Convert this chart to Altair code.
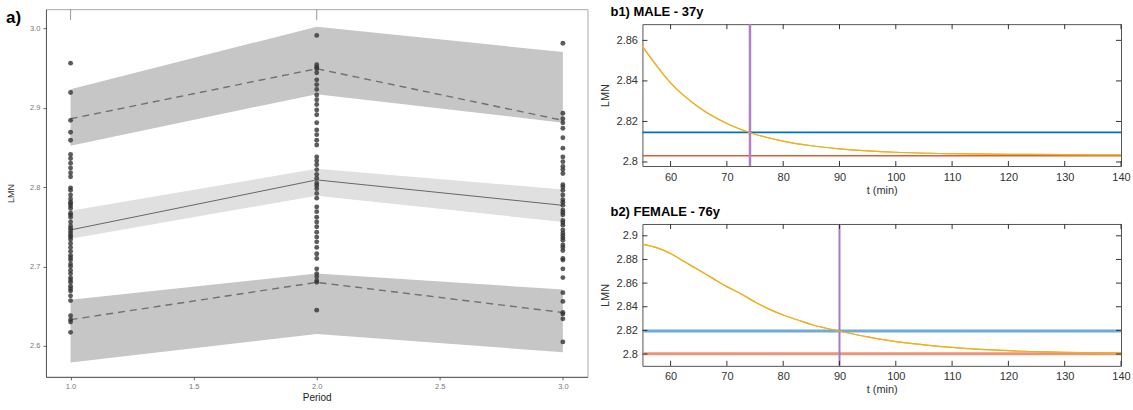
import altair as alt
import pandas as pd

FONT = "Liberation Sans"

# ---------------- panel a) data ----------------
period = [1.0, 2.0, 3.0]
upper_line = [2.886, 2.949, 2.884]
upper_lo = [2.852, 2.917, 2.881]
upper_hi = [2.923, 3.002, 2.970]
mid_line = [2.746, 2.809, 2.777]
mid_lo = [2.735, 2.789, 2.756]
mid_hi = [2.770, 2.823, 2.797]
lower_line = [2.633, 2.680, 2.642]
lower_lo = [2.579, 2.615, 2.592]
lower_hi = [2.658, 2.691, 2.671]

pts_p1 = [2.956, 2.919, 2.884, 2.869, 2.859, 2.841, 2.836, 2.830, 2.824, 2.818,
          2.813, 2.799, 2.796, 2.790, 2.785, 2.781, 2.779, 2.776, 2.773, 2.767,
          2.765, 2.762, 2.756, 2.751, 2.748, 2.745, 2.742, 2.739, 2.737, 2.734,
          2.729, 2.724, 2.719, 2.714, 2.711, 2.708, 2.703, 2.700, 2.695, 2.691,
          2.686, 2.683, 2.680, 2.675, 2.672, 2.669, 2.663, 2.657, 2.638, 2.633,
          2.630, 2.617]
pts_p2 = [2.991, 2.954, 2.951, 2.949, 2.944, 2.935, 2.929, 2.923, 2.916, 2.910,
          2.904, 2.897, 2.891, 2.881, 2.872, 2.866, 2.859, 2.853, 2.838, 2.833,
          2.828, 2.822, 2.816, 2.811, 2.805, 2.802, 2.798, 2.792, 2.786, 2.775,
          2.769, 2.762, 2.756, 2.750, 2.743, 2.737, 2.731, 2.724, 2.716, 2.710,
          2.697, 2.691, 2.687, 2.682, 2.680, 2.645]
pts_p3 = [2.981, 2.893, 2.886, 2.881, 2.874, 2.862, 2.849, 2.838, 2.832, 2.826,
          2.822, 2.817, 2.803, 2.800, 2.796, 2.790, 2.784, 2.781, 2.777, 2.771,
          2.768, 2.765, 2.758, 2.755, 2.752, 2.746, 2.742, 2.739, 2.736, 2.733,
          2.727, 2.724, 2.720, 2.710, 2.708, 2.697, 2.686, 2.667, 2.656, 2.642,
          2.640, 2.634, 2.605]
a_xticks = [1.0, 1.5, 2.0, 2.5, 3.0]
a_yticks = [2.6, 2.7, 2.8, 2.9, 3.0]
a_top_marks = [1.0, 2.0]

# ---------------- panel b) data ----------------
t_b1 = [55, 60, 65, 70, 75, 80, 85, 90, 95, 100, 110, 120, 130, 140]
lmn_b1 = [2.857, 2.839, 2.827, 2.819, 2.8137, 2.8103, 2.808, 2.8065, 2.8055,
          2.8048, 2.8041, 2.8038, 2.8036, 2.8035]
b1_blue = 2.8146
b1_red = 2.8031
b1_cut = 74.1

t_b2 = [55, 57.5, 60, 62.5, 65, 67.5, 70, 72.5, 75, 77.5, 80, 82.5, 85, 87.5,
        90, 95, 100, 105, 110, 115, 120, 125, 130, 135, 140]
lmn_b2 = [2.893, 2.890, 2.885, 2.878, 2.871, 2.864, 2.857, 2.851, 2.844, 2.838,
          2.833, 2.829, 2.825, 2.822, 2.8194, 2.8145, 2.8105, 2.8078, 2.8056,
          2.804, 2.8028, 2.802, 2.8014, 2.801, 2.8008]
b2_blue = 2.8194
b2_red = 2.8003
b2_cut = 90.0

b_xticks = [60, 70, 80, 90, 100, 110, 120, 130, 140]
b1_yticks = [2.8, 2.82, 2.84, 2.86]
b2_yticks = [2.8, 2.82, 2.84, 2.86, 2.88, 2.9]

# ---------------- panel a) chart ----------------
AW, AH = 542, 368
ax_x = alt.Scale(domain=[0.9, 3.1], nice=False, zero=False)
ax_y = alt.Scale(domain=[2.561, 3.024], nice=False, zero=False)

band_df = pd.DataFrame({
    "period": period * 3,
    "lo": upper_lo + mid_lo + lower_lo,
    "hi": upper_hi + mid_hi + lower_hi,
    "band": ["upper"] * 3 + ["mid"] * 3 + ["lower"] * 3,
})
line_df = pd.DataFrame({
    "period": period * 3,
    "val": upper_line + mid_line + lower_line,
    "band": ["upper"] * 3 + ["mid"] * 3 + ["lower"] * 3,
})
pts_df = pd.DataFrame({
    "period": [1.0] * len(pts_p1) + [2.0] * len(pts_p2) + [3.0] * len(pts_p3),
    "val": pts_p1 + pts_p2 + pts_p3,
})

xa = alt.X("period:Q", scale=ax_x, axis=alt.Axis(
    values=a_xticks, format=".1f", title="Period", grid=False, labelFlush=False,
    labelFontSize=7.5, labelColor="#777", labelFont=FONT, tickSize=3, tickColor="#666",
    domainColor="#555", titleFontSize=10, titleFont=FONT, titleFontWeight="normal",
    titleColor="#222", titlePadding=2, labelPadding=3))
ya_axis = alt.Axis(
    values=a_yticks, format=".1f", title="LMN", grid=False, labelFlush=False,
    labelFontSize=7.5, labelColor="#777", labelFont=FONT, tickSize=3, tickColor="#666",
    domainColor="#555", titleFontSize=9, titleFont=FONT, titleFontWeight="normal",
    titleColor="#333", titlePadding=14, labelPadding=3)


def band_layer(name, col, first=False):
    enc = dict(x=xa if first else alt.X("period:Q"),
               y=alt.Y("lo:Q", scale=ax_y, axis=ya_axis, stack=None) if first
               else alt.Y("lo:Q", stack=None),
               y2="hi:Q")
    return alt.Chart(band_df).transform_filter(alt.datum.band == name).mark_area(
        color=col, opacity=1).encode(**enc)


bands_u = band_layer("upper", "#c6c6c6", first=True)
bands_m = band_layer("mid", "#e0e0e0")
bands_l = band_layer("lower", "#c6c6c6")
dashed = alt.Chart(line_df).transform_filter(alt.datum.band != "mid").mark_line(
    color="#707070", strokeDash=[7, 5], strokeWidth=1.4).encode(
    x="period:Q", y="val:Q", detail="band:N")
solid = alt.Chart(line_df).transform_filter(alt.datum.band == "mid").mark_line(
    color="#666", strokeWidth=1).encode(x="period:Q", y="val:Q")
points = alt.Chart(pts_df).mark_circle(size=24, color="#333", opacity=0.8).encode(
    x="period:Q", y="val:Q")
top_marks = alt.Chart(pd.DataFrame({"period": a_top_marks})).mark_rule(
    color="#999", strokeWidth=1).encode(x="period:Q", y=alt.value(0), y2=alt.value(11))
a_label = alt.Chart(pd.DataFrame({"t": ["a)"]})).mark_text(
    fontSize=17, fontWeight="bold", font=FONT, align="left", baseline="top", color="#000"
).encode(text="t:N", x=alt.value(-40), y=alt.value(1))

panel_a = alt.layer(bands_u, bands_m, bands_l, dashed, solid, points, top_marks,
                    a_label).properties(
    width=AW, height=AH, view=alt.ViewBackground(stroke="#aaa", strokeWidth=1))

# ---------------- panel b) charts ----------------
BW, BH = 479, 142


def make_title(text, h):
    return alt.Chart(pd.DataFrame({"t": [text]})).mark_text(
        fontSize=13, fontWeight="bold", font=FONT, align="left", baseline="bottom",
        color="#000").encode(text="t:N", x=alt.value(-32), y=alt.value(h)).properties(
        width=BW, height=h, view=alt.ViewBackground(stroke="transparent"))


def make_b(t, vals, blue, red, cut, ydom, yticks, blue_col, red_col,
           purple_col, lw_h, lw_p):
    xs = alt.Scale(domain=[55, 140], nice=False, zero=False)
    ys = alt.Scale(domain=ydom, nice=False, zero=False)
    curve_df = pd.DataFrame({"t": t, "v": vals})
    xaxis = alt.Axis(values=b_xticks, title="t (min)", grid=False, domain=False,
                     tickSize=0, labelFontSize=11, labelFont=FONT, labelColor="#333",
                     labelPadding=5, titleFontSize=11, titleFont=FONT, labelOverlap=False,
                     labelFlush=False, titleFontWeight="normal", titleColor="#333",
                     titlePadding=2)
    yaxis = alt.Axis(values=yticks, format="~g", title="LMN", grid=False, domain=False,
                     tickSize=0, labelFontSize=11, labelFont=FONT, labelColor="#333",
                     labelPadding=5, titleFontSize=11, titleFont=FONT, labelOverlap=False,
                     labelFlush=False, labelBound=False, titleFontWeight="normal",
                     titleColor="#333", titlePadding=6)
    X = alt.X("t:Q", scale=xs, axis=xaxis)
    Y = alt.Y("v:Q", scale=ys, axis=yaxis)
    base_curve = alt.Chart(curve_df).mark_line(
        color="#EDB120", strokeWidth=1.2, interpolate="monotone").encode(x=X, y=Y)
    hblue = alt.Chart(pd.DataFrame({"v": [blue]})).mark_rule(
        color=blue_col, strokeWidth=lw_h).encode(y=Y)
    hred = alt.Chart(pd.DataFrame({"v": [red]})).mark_rule(
        color=red_col, strokeWidth=lw_h).encode(y=Y)
    vline = alt.Chart(pd.DataFrame({"t": [cut]})).mark_rule(
        color=purple_col, strokeWidth=lw_p).encode(x=X)
    xt = pd.DataFrame({"t": b_xticks})
    yt = pd.DataFrame({"v": yticks})
    tick_bot = alt.Chart(xt).mark_rule(color="#333").encode(
        x=X, y=alt.value(BH), y2=alt.value(BH - 5))
    tick_top = alt.Chart(xt).mark_rule(color="#333").encode(
        x=X, y=alt.value(0), y2=alt.value(5))
    tick_l = alt.Chart(yt).mark_rule(color="#333").encode(
        y=Y, x=alt.value(0), x2=alt.value(5))
    tick_r = alt.Chart(yt).mark_rule(color="#333").encode(
        y=Y, x=alt.value(BW), x2=alt.value(BW - 5))
    return alt.layer(base_curve, hred, hblue, vline, base_curve, tick_bot, tick_top,
                     tick_l, tick_r).properties(
        width=BW, height=BH,
        view=alt.ViewBackground(stroke="#555", strokeWidth=1))


b1 = make_b(t_b1, lmn_b1, b1_blue, b1_red, b1_cut,
            [2.798, 2.868], b1_yticks, "#0072BD", "#D95F36", "#B27FC6", 1.6, 2.5)
b2 = make_b(t_b2, lmn_b2, b2_blue, b2_red, b2_cut,
            [2.790, 2.910], b2_yticks, "#6FAAD8", "#E8957A", "#A67BC0", 3, 2)

right = alt.vconcat(make_title("b1) MALE - 37y", 10), b1,
                    make_title("b2) FEMALE - 76y", 20), b2, spacing=2)
chart = alt.hconcat(panel_a, right, spacing=10).properties(
    padding={"left": 5, "top": 5, "right": 2, "bottom": 0},
    background="white",
).configure_view(fill="white")

chart.save("out.html", embed_options={"renderer": "svg", "actions": False})
